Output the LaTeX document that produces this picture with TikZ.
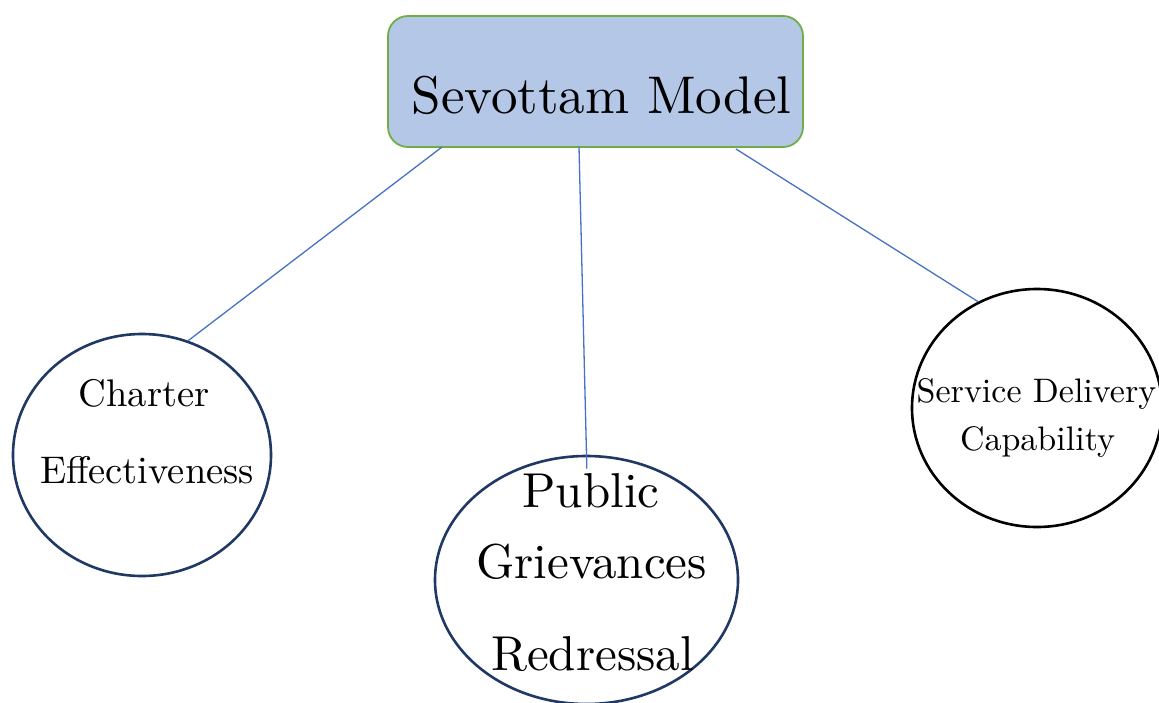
\documentclass[tikz,border=0pt]{standalone}
\usepackage{fontspec}
\setmainfont{lmroman10-regular.otf}
\usetikzlibrary{shapes.geometric}
\definecolor{boxfill}{HTML}{B4C7E7}
\definecolor{boxedge}{HTML}{70AD47}
\definecolor{navy}{HTML}{1F3864}
\definecolor{linkblue}{HTML}{4472C4}
\tikzset{
  topbox/.style={draw=boxedge, line width=1.8pt, fill=boxfill, rounded corners=20pt,
    minimum width=415pt, minimum height=131pt, inner sep=0pt},
  bubble/.style={ellipse, draw=#1, line width=2.6pt, fill=white, inner sep=0pt},
  link/.style={draw=linkblue, line width=1.3pt},
  lbl/.style={anchor=base, inner sep=0pt, text=black}
}
\begin{document}
\begin{tikzpicture}[x=1pt,y=-1pt]
  \useasboundingbox (0,0) rectangle (1159,702);

  % root box
  \node[topbox] (root) at (595.5,81.5) {};
  \node[lbl, font=\fontsize{53}{56}\selectfont] (roottext) at (601.5,113) {Sevottam Model};

  % the three pillars
  \node[bubble=navy, minimum width=258pt, minimum height=242pt] (charter) at (142,455) {};
  \node[bubble=navy, minimum width=303pt, minimum height=248pt] (pgr) at (586.5,580) {};
  \node[bubble=black, minimum width=250pt, minimum height=238pt] (sdc) at (1037,408) {};

  % connectors from the root box
  \coordinate (r1) at (442,147);
  \coordinate (r2) at (579,147);
  \coordinate (r3) at (736,149);
  \draw[link] (r1) -- (charter.68);
  \draw[link, shorten >=-14pt] (r2) -- (pgr.north);
  \draw[link] (r3) -- (sdc.119.7);

  % labels
  \node[lbl, font=\fontsize{38.5}{40}\selectfont] (c1) at (144,406) {Charter};
  \node[lbl, font=\fontsize{38.5}{40}\selectfont] (c2) at (147,483) {Effectiveness};

  \node[lbl, font=\fontsize{49}{52}\selectfont] (p1) at (591,507) {Public};
  \node[lbl, font=\fontsize{49}{52}\selectfont] (p2) at (591.5,578) {Grievances};
  \node[lbl, font=\fontsize{49}{52}\selectfont] (p3) at (592.5,670) {Redressal};

  \node[lbl, font=\fontsize{34}{36}\selectfont] (s1) at (1036.5,402) {Service Delivery};
  \node[lbl, font=\fontsize{34}{36}\selectfont] (s2) at (1037.5,450) {Capability};
\end{tikzpicture}
\end{document}
